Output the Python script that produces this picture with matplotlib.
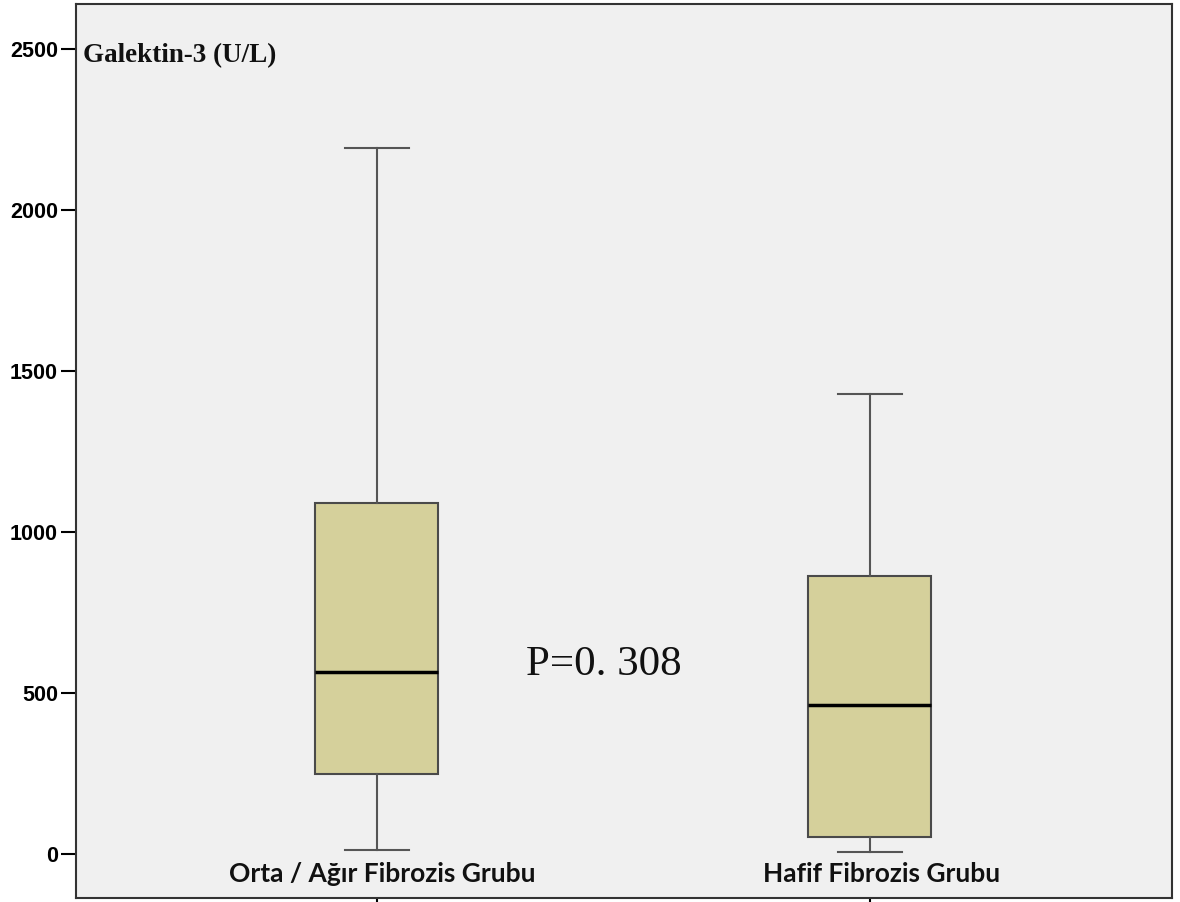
import matplotlib
matplotlib.use("Agg")
import matplotlib.pyplot as plt

# Box statistics (U/L)
groups    = ["Orta / Ağır Fibrozis Grubu", "Hafif Fibrozis Grubu"]
whis_low  = [12, 6]
q1        = [248, 53]
medians   = [565, 463]
q3        = [1090, 863]
whis_high = [2193, 1429]
yticks    = [0, 500, 1000, 1500, 2000, 2500]
p_text    = "P=0. 308"
y_label   = "Galektin-3 (U/L)"

stats = [dict(label=g, whislo=lo, q1=a, med=m, q3=b, whishi=hi, fliers=[])
         for g, lo, a, m, b, hi in zip(groups, whis_low, q1, medians, q3, whis_high)]

fig = plt.figure(figsize=(11.8, 9.02), dpi=100)
ax = fig.add_axes([76 / 1180, 4 / 902, 1096 / 1180, 894 / 902])
ax.set_facecolor("#f0f0f0")

ax.bxp(stats, positions=[1, 2], widths=0.25, showfliers=False, patch_artist=True,
       boxprops=dict(facecolor="#d5d09b", edgecolor="#4a4a4a", linewidth=1.5),
       whiskerprops=dict(color="#555555", linewidth=1.5),
       capprops=dict(color="#555555", linewidth=1.5),
       medianprops=dict(color="black", linewidth=2.5),
       capwidths=0.13)

ax.set_xlim(0.39, 2.613)
ax.set_ylim(-137, 2640)
ax.set_yticks(yticks)
ax.set_yticklabels([str(v) for v in yticks], fontsize=15.5, fontweight="bold",
                   family="Liberation Sans")
ax.tick_params(axis="y", direction="out", length=11, width=1.5, pad=2)
ax.set_xticks([1, 2])
ax.set_xticklabels([])
ax.tick_params(axis="x", direction="out", length=4, width=1.5)

for sp in ax.spines.values():
    sp.set_color("#333333")
    sp.set_linewidth(1.5)

# category labels sit inside the plot, just above the bottom frame
for pos, g in zip([1.012, 2.024], groups):
    ax.text(pos, -62, g, ha="center", va="center", fontsize=19, fontweight="bold",
            family="Lato", color="#111111")

ax.text(0.404, 2480, y_label, ha="left", va="center", fontsize=19.5, fontweight="bold",
        family="Liberation Serif", color="#111111")
ax.text(1.461, 588, p_text, ha="center", va="center", fontsize=31,
        family="Liberation Serif", color="#111111")

fig.savefig("out.png", dpi=100)
